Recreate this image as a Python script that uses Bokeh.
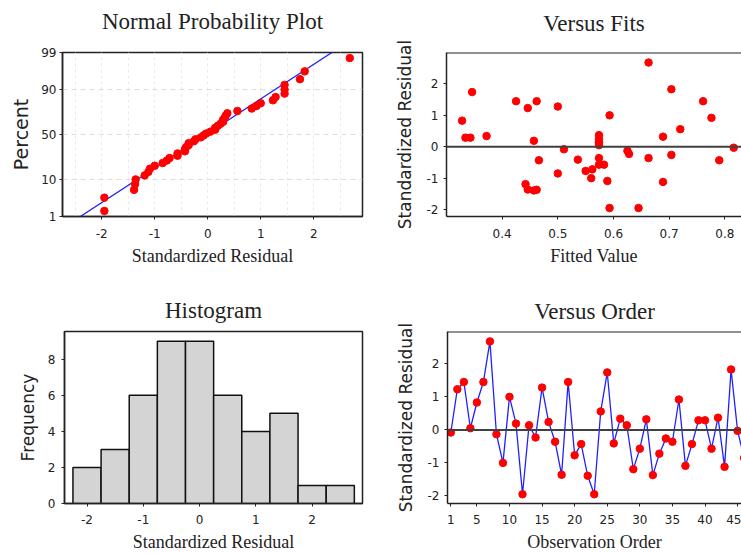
from statistics import NormalDist
from bokeh.plotting import figure
from bokeh.layouts import column, row
from bokeh.models import FixedTicker, Span, Range1d, Title
from bokeh.embed import file_html
from bokeh.resources import INLINE

# ---------------- data ----------------
observation = list(range(1, 47))
residuals = [-0.08, 1.23, 1.45, 0.05, 0.83, 1.45, 2.68, -0.13, -1.00, 1.00,
             0.19, -1.95, 0.14, -0.23, 1.28, 0.24, -0.36, -1.36, 1.45, -0.77,
             -0.43, -1.39, -1.95, 0.56, 1.74, -0.41, 0.34, 0.14, -1.19, -0.57,
             0.32, -1.37, -0.72, -0.26, -0.36, 0.92, -1.09, -0.43, 0.29, 0.29,
             -0.57, 0.37, -1.12, 1.83, -0.03, -0.85]
fitted = [0.511, 0.446, 0.425, 0.574, 0.328, 0.462, 0.663, 0.625, 0.560, 0.593,
          0.457, 0.593, 0.574, 0.628, 0.500, 0.574, 0.574, 0.446, 0.761, 0.550,
          0.466, 0.457, 0.645, 0.720, 0.346, 0.536, 0.372, 0.574, 0.442, 0.583,
          0.689, 0.462, 0.562, 0.704, 0.663, 0.776, 0.589, 0.790, 0.334, 0.343,
          0.574, 0.574, 0.689, 0.704, 0.816, 0.500]
hist_centers = [-2.0, -1.5, -1.0, -0.5, 0.0, 0.5, 1.0, 1.5, 2.0, 2.5]
hist_counts = [2, 3, 6, 9, 9, 6, 4, 5, 1, 1]
hist_bin_width = 0.5
prob_tick_percent = [1, 10, 50, 90, 99]
prob_grid_percent = [10, 50, 90]
fit_line_mean = -0.03
fit_line_sd = 1.02
resid_ticks = [-2, -1, 0, 1, 2]
resid_grid = [-2.5, -2, -1.5, -1, -0.5, 0, 0.5, 1, 1.5, 2, 2.5]
fits_ticks = [0.4, 0.5, 0.6, 0.7, 0.8]
order_ticks = [1, 5, 10, 15, 20, 25, 30, 35, 40, 45]
freq_ticks = [0, 2, 4, 6, 8]

nd = NormalDist()
n = len(residuals)
sorted_res = sorted(residuals)
prob_z = [nd.inv_cdf((i + 1 - 0.3) / (n + 0.4)) for i in range(n)]
z_lo, z_hi = nd.inv_cdf(0.01), nd.inv_cdf(0.99)

RED = "#FF0000"
BLUE = "#2020FF"
TXT = "#222222"
SERIF = "Liberation Serif"
SANS = "DejaVu Sans"
DOT = 7.5


def base_fig(title, w, h, ml, mr, mt, mb, xr, yr, gap, boxed=True):
    p = figure(width=w, height=h, x_range=Range1d(*xr), y_range=Range1d(*yr),
               output_backend="svg", toolbar_location=None,
               min_border_left=ml, min_border_right=mr, min_border_top=mt, min_border_bottom=mb)
    # spacer between frame and title (first "above" panel sits closest to the frame)
    p.add_layout(Title(text=" ", text_font_size="1px", standoff=gap), "above")
    p.add_layout(Title(text=title, text_font=SERIF, text_font_size="23px",
                       text_font_style="normal", text_color=TXT, align="center",
                       standoff=0), "above")
    p.background_fill_color = "white"
    p.border_fill_color = "white"
    if boxed:
        p.outline_line_color = TXT
        p.outline_line_width = 1.5
    else:
        p.outline_line_color = None
    p.xgrid.visible = False
    p.ygrid.visible = False
    for ax in list(p.xaxis) + list(p.yaxis):
        ax.axis_line_color = TXT
        ax.axis_line_width = 1.5
        ax.major_tick_line_color = TXT
        ax.major_tick_out = 3
        ax.major_tick_in = 0
        ax.minor_tick_line_color = None
        ax.major_label_text_font = SANS
        ax.major_label_text_font_size = "12px"
        ax.major_label_text_color = TXT
        ax.axis_label_text_font_style = "normal"
        ax.axis_label_text_color = TXT
    return p


def set_xlabel(p, text, label_standoff, standoff):
    ax = p.xaxis[0]
    ax.axis_label = text
    ax.axis_label_text_font = SERIF
    ax.axis_label_text_font_size = "18px"
    ax.axis_label_standoff = standoff
    ax.major_label_standoff = label_standoff


def set_ylabel(p, text, size, standoff, label_standoff):
    ax = p.yaxis[0]
    ax.axis_label = text
    ax.axis_label_text_font = SANS
    ax.axis_label_text_font_size = size
    ax.axis_label_standoff = standoff
    ax.major_label_standoff = label_standoff


def lab(v):
    return "%g" % v


# ---------------- Normal probability plot ----------------
p1 = base_fig("Normal Probability Plot", 375, 277, 62, 13, 52, 60,
              (-2.74, 2.92), (z_lo, z_hi), 16)
p1.xaxis.ticker = FixedTicker(ticks=resid_ticks)
p1.xaxis.major_label_overrides = {t: lab(t) for t in resid_ticks}
prob_tick_z = [nd.inv_cdf(v / 100.0) for v in prob_tick_percent]
p1.yaxis.ticker = FixedTicker(ticks=prob_tick_z)
p1.yaxis.major_label_overrides = {z: str(v) for z, v in zip(prob_tick_z, prob_tick_percent)}
p1.xgrid.visible = True
p1.xgrid.ticker = FixedTicker(ticks=resid_grid)
p1.xgrid.grid_line_color = "#EAEAEA"
p1.xgrid.grid_line_dash = "3 3"
p1.ygrid.visible = True
p1.ygrid.ticker = FixedTicker(ticks=[nd.inv_cdf(v / 100.0) for v in prob_grid_percent])
p1.ygrid.grid_line_color = "#DCDCDC"
p1.ygrid.grid_line_dash = "5 4"
set_xlabel(p1, "Standardized Residual", 9, 5)
set_ylabel(p1, "Percent", "19px", 6, 3)
p1.line([fit_line_mean + fit_line_sd * z_lo, fit_line_mean + fit_line_sd * z_hi], [z_lo, z_hi],
        line_color=BLUE, line_width=1.3)
p1.scatter(sorted_res, prob_z, size=DOT, fill_color=RED, line_color=RED)

# ---------------- Versus fits ----------------
p2 = base_fig("Versus Fits", 366, 277, 71, 0, 51, 61, (0.30, 0.83), (-2.22, 3.0), 14, boxed=False)
p2.xaxis.ticker = FixedTicker(ticks=fits_ticks)
p2.xaxis.major_label_overrides = {t: ("%.1f" % t) for t in fits_ticks}
p2.yaxis.ticker = FixedTicker(ticks=resid_ticks)
p2.yaxis.major_label_overrides = {t: lab(t) for t in resid_ticks}
set_xlabel(p2, "Fitted Value", 9, 5)
set_ylabel(p2, "Standardized Residual", "17px", 9, 5)
p2.add_layout(Span(location=0, dimension="width", line_color="#404040", line_width=2))
p2.add_layout(Span(location=3.0, dimension="width", line_color=TXT, line_width=2))
p2.scatter(fitted, residuals, size=DOT, fill_color=RED, line_color=RED)

# ---------------- Histogram ----------------
p3 = base_fig("Histogram", 375, 277, 64, 13, 54, 50, (-2.40, 2.895), (0, 9.54), 6)
p3.xaxis.ticker = FixedTicker(ticks=resid_ticks)
p3.xaxis.major_label_overrides = {t: lab(t) for t in resid_ticks}
p3.yaxis.ticker = FixedTicker(ticks=freq_ticks)
set_xlabel(p3, "Standardized Residual", 8, 5)
set_ylabel(p3, "Frequency", "17px", 7, 6)
p3.vbar(x=hist_centers, top=hist_counts, width=hist_bin_width, bottom=0,
        fill_color="#D4D4D4", line_color="#111111", line_width=1.5)

# ---------------- Versus order ----------------
p4 = base_fig("Versus Order", 366, 277, 72, 0, 53, 50, (0.49, 45.6), (-2.23, 2.98), 5, boxed=False)
p4.xaxis.ticker = FixedTicker(ticks=order_ticks)
p4.yaxis.ticker = FixedTicker(ticks=resid_ticks)
p4.yaxis.major_label_overrides = {t: lab(t) for t in resid_ticks}
set_xlabel(p4, "Observation Order", 8, 5)
set_ylabel(p4, "Standardized Residual", "17px", 9, 5)
p4.add_layout(Span(location=0, dimension="width", line_color="#404040", line_width=2))
p4.add_layout(Span(location=2.98, dimension="width", line_color=TXT, line_width=2))
p4.line(observation, residuals, line_color=BLUE, line_width=1.3)
p4.scatter(observation, residuals, size=DOT, fill_color=RED, line_color=RED)

layout = column(row(p1, p2), row(p3, p4))
open("out.html", "w").write(file_html(layout, INLINE))
